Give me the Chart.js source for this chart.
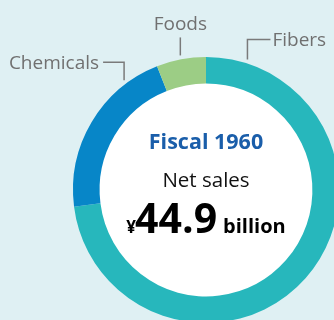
<!DOCTYPE html>
<html>
<head>
<meta charset="utf-8">
<script src="https://cdn.jsdelivr.net/npm/chart.js@4"></script>
<style>
  html, body { margin: 0; padding: 0; background: #dff0f3; overflow: hidden; }
  #wrap { position: absolute; left: 0; top: 0; width: 412px; height: 380px; }
</style>
</head>
<body>
<div id="wrap"><canvas id="sales" width="412" height="380"></canvas></div>
<script>
const segments = ['Fibers', 'Chemicals', 'Foods'];
const shares   = [73, 21, 6];
const colors   = ['#27b7bc', '#0786c8', '#9ccd85'];

const fiscalYear = 'Fiscal 1960';
const salesLabel = 'Net sales';
const salesValue = 44.9;

const FONT = '"Open Sans", "Noto Sans", sans-serif';
const GREY = '#707070';

// where along each slice its leader line starts (0 = slice start, 1 = slice end),
// then how far up the line runs and which way the label sits
const leaders = {
    Fibers:    { at: 0.067, rise: 20, run: 23,  align: 'left'   },
    Chemicals: { at: 0.80,  rise: 18, run: -21, align: 'right'  },
    Foods:     { at: 0.5,   rise: 18, run: 0,   align: 'center' },
};

// white disc inside the ring
const holeFill = {
    id: 'holeFill',
    beforeDatasetsDraw(chart) {
        const arc = chart.getDatasetMeta(0).data[0];
        const ctx = chart.ctx;
        ctx.save();
        ctx.fillStyle = '#ffffff';
        ctx.beginPath();
        ctx.arc(arc.x, arc.y, arc.innerRadius + 1, 0, Math.PI * 2);
        ctx.fill();
        ctx.restore();
    },
};

const leaderLabels = {
    id: 'leaderLabels',
    afterDraw(chart) {
        const ctx = chart.ctx;
        const arcs = chart.getDatasetMeta(0).data;
        ctx.save();
        ctx.strokeStyle = '#7a7a7a';
        ctx.lineWidth = 1.5;
        ctx.fillStyle = GREY;
        ctx.font = '19px ' + FONT;
        ctx.textBaseline = 'alphabetic';
        arcs.forEach((arc, i) => {
            const cfg = leaders[segments[i]];
            const a = arc.startAngle + (arc.endAngle - arc.startAngle) * cfg.at;
            const r = arc.outerRadius + 4;
            const x0 = arc.x + r * Math.cos(a);
            const y0 = arc.y + r * Math.sin(a);
            const y1 = y0 - cfg.rise;
            const x1 = x0 + cfg.run;
            ctx.beginPath();
            ctx.moveTo(x0, y0);
            ctx.lineTo(x0, y1);
            if (cfg.run !== 0) ctx.lineTo(x1, y1);
            ctx.stroke();
            ctx.textAlign = cfg.align;
            if (cfg.align === 'center') {
                ctx.fillText(segments[i], x0, y1 - 7);
            } else {
                const pad = cfg.run > 0 ? 2 : -4;
                ctx.fillText(segments[i], x1 + pad, y1 + 7);
            }
        });
        ctx.restore();
    },
};

const centerText = {
    id: 'centerText',
    afterDraw(chart) {
        const ctx = chart.ctx;
        const arc = chart.getDatasetMeta(0).data[0];
        const cx = arc.x, cy = arc.y;
        ctx.save();
        ctx.textBaseline = 'alphabetic';
        ctx.textAlign = 'center';

        ctx.fillStyle = '#1a5eaa';
        ctx.font = 'bold 21.5px ' + FONT;
        ctx.fillText(fiscalYear, cx, cy - 41);

        ctx.fillStyle = '#111';
        ctx.font = '20.5px ' + FONT;
        ctx.fillText(salesLabel, cx, cy - 3);

        // ¥ + big figure + "billion", laid out as one centred line
        const yen = '¥', num = salesValue.toFixed(1), unit = 'billion';
        const fYen = 'bold 17px ' + FONT;
        const fNum = 'bold 41px ' + FONT;
        const fUnit = 'bold 20px ' + FONT;
        ctx.font = fYen;  const wYen = ctx.measureText(yen).width;
        ctx.font = fNum;  const wNum = ctx.measureText(num).width;
        ctx.font = fUnit; const wUnit = ctx.measureText(unit).width;
        const gap = 5;
        let x = cx - (wYen + wNum + gap + wUnit) / 2;
        const base = cy + 43;
        ctx.textAlign = 'left';
        ctx.fillStyle = '#000';
        ctx.font = fYen;  ctx.fillText(yen, x, base);  x += wYen;
        ctx.font = fNum;  ctx.fillText(num, x - 1, base); x += wNum + gap;
        ctx.font = fUnit; ctx.fillText(unit, x, base);
        ctx.restore();
    },
};

new Chart(document.getElementById('sales'), {
    type: 'doughnut',
    data: {
        labels: segments,
        datasets: [{
            data: shares,
            backgroundColor: colors,
            borderWidth: 0,
        }],
    },
    options: {
        responsive: false,
        animation: false,
        cutout: '80%',
        layout: { padding: { left: 73, right: 73, top: 57, bottom: 57 } },
        plugins: {
            legend: { display: false },
            tooltip: { enabled: false },
        },
    },
    plugins: [holeFill, leaderLabels, centerText],
});
</script>
</body>
</html>
